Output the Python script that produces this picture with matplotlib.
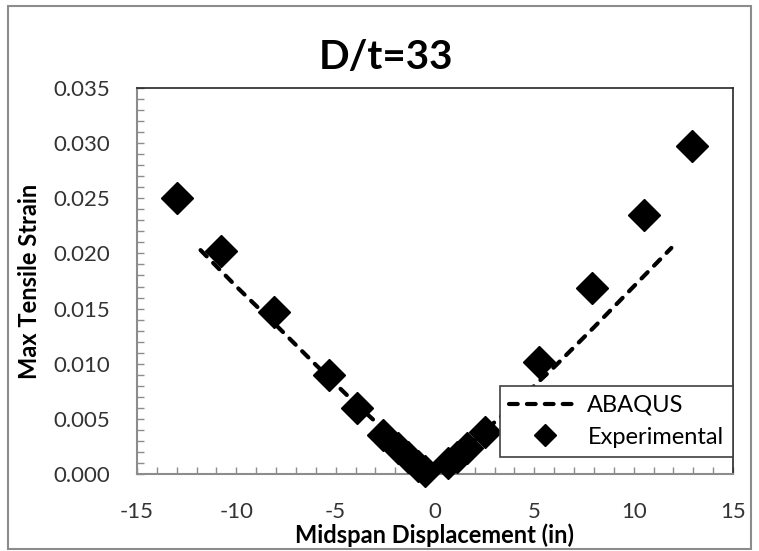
#!/usr/bin/env python3

# Import special modules ...
import matplotlib
matplotlib.use("Agg")
import matplotlib.pyplot
import matplotlib.patches
import matplotlib.ticker

matplotlib.pyplot.rcParams["axes.unicode_minus"] = False

abaqus_x = [-11.8, -10.0, -8.0, -6.0, -4.0, -2.0, -1.0, -0.2, 1.0, 2.0, 4.0, 6.0, 8.0, 10.0, 11.9]
abaqus_y = [0.0203, 0.0170, 0.0135, 0.0099, 0.0064, 0.0031, 0.0015, 0.0000, 0.0015, 0.0031, 0.0063, 0.0097, 0.0133, 0.0170, 0.0205]

exp_x = [-13.0, -10.75, -8.1, -5.35, -3.95, -2.6, -1.85, -1.35, -0.85, -0.5, 0.65, 1.1, 1.6, 2.5, 5.25, 7.9, 10.5, 12.95]
exp_y = [0.0250, 0.0202, 0.0147, 0.0090, 0.0060, 0.0035, 0.0024, 0.0015, 0.0007, 0.0003, 0.0010, 0.0015, 0.0024, 0.0038, 0.0102, 0.0169, 0.0235, 0.0297]

font = "Lato"

# Create figure ...
fg = matplotlib.pyplot.figure(figsize = (7.59, 5.51), dpi = 100)
ax = fg.add_axes([0.1805, 0.1397, 0.7852, 0.7006])

# Outer chart border ...
fg.patches.append(matplotlib.patches.Rectangle((0.011, 0.004), 0.979, 0.985, transform = fg.transFigure, fill = False, edgecolor = "#8c8c8c", linewidth = 1.5))

# Plot data ...
ax.plot(abaqus_x, abaqus_y, color = "black", linewidth = 3.0, linestyle = (0, (2.1, 2.2)), dash_capstyle = "round", label = "ABAQUS", zorder = 3)
ax.plot(exp_x, exp_y, color = "black", linestyle = "none", marker = "D", markersize = 16, label = "Experimental", zorder = 4, clip_on = False)

# Configure axis ...
ax.set_xlim(-15, 15)
ax.set_ylim(0, 0.035)
ax.xaxis.set_major_locator(matplotlib.ticker.MultipleLocator(5))
ax.xaxis.set_minor_locator(matplotlib.ticker.MultipleLocator(1))
ax.yaxis.set_major_locator(matplotlib.ticker.MultipleLocator(0.005))
ax.yaxis.set_minor_locator(matplotlib.ticker.MultipleLocator(0.001))
ax.yaxis.set_major_formatter(matplotlib.ticker.FormatStrFormatter("%.3f"))
ax.tick_params(which = "both", direction = "in", color = "#8c8c8c", width = 1, length = 5, labelsize = 16, labelcolor = "#333333")
ax.tick_params(axis = "x", pad = 20)
ax.tick_params(axis = "y", pad = 19)
for lbl in ax.get_xticklabels() + ax.get_yticklabels():
    lbl.set_family(font)

ax.spines["left"].set_color("#8c8c8c")
ax.spines["bottom"].set_color("#8c8c8c")
ax.spines["left"].set_linewidth(1.5)
ax.spines["bottom"].set_linewidth(1.5)
ax.spines["top"].set_color("#262626")
ax.spines["right"].set_color("#262626")
ax.spines["top"].set_linewidth(1.2)
ax.spines["right"].set_linewidth(1.2)

ax.set_xlabel("Midspan Displacement (in)", family = font, fontsize = 17, fontweight = "bold", labelpad = 1)
ax.set_ylabel("Max Tensile Strain", family = font, fontsize = 17, fontweight = "bold", labelpad = 9)
fg.text(0.508, 0.895, "D/t=33", family = font, fontsize = 29, fontweight = "bold", ha = "center", va = "center")

leg = ax.legend(loc = "lower right", bbox_to_anchor = (1.0, 0.044), borderaxespad = 0, fancybox = False, framealpha = 1, edgecolor = "#404040", prop = {"family": font, "size": 17}, handlelength = 3.0, handletextpad = 0.3, borderpad = 0.4, labelspacing = 0.45)
leg.get_frame().set_linewidth(1.2)
leg.legend_handles[1].set_markersize(11)

# Save figure ...
fg.savefig("out.png", dpi = 100)
matplotlib.pyplot.close(fg)
